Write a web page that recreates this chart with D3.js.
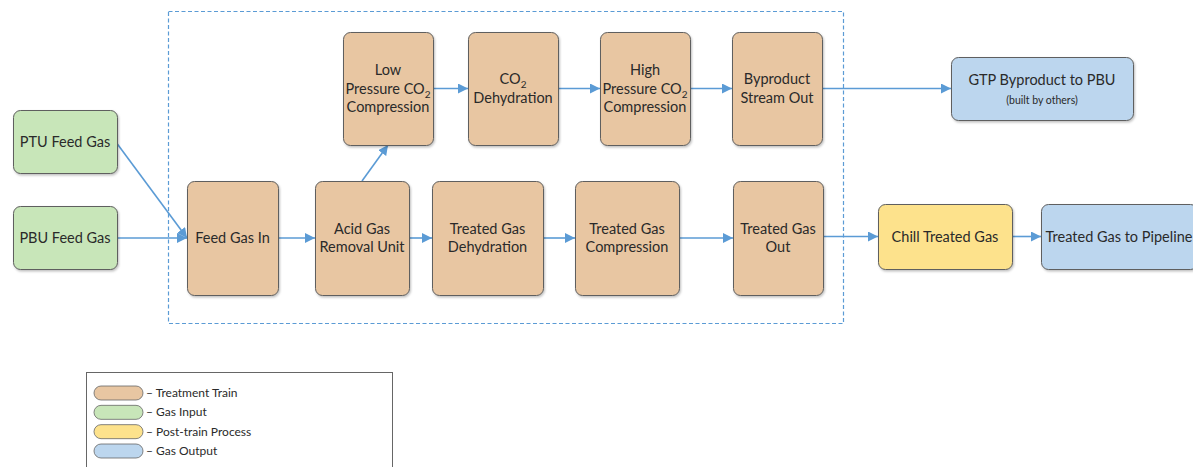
<!DOCTYPE html>
<html>
<head>
<meta charset="utf-8">
<script src="https://cdn.jsdelivr.net/npm/d3@7/dist/d3.min.js"></script>
<style>
  body { margin: 0; background: #fff; }
  svg text { font-family: Lato, "Open Sans", sans-serif; fill: #2a2a2a; }
</style>
</head>
<body>
<div id="chart"></div>
<script>
// node ids, labels (lines; "_2" marks a subscript 2) and kinds
var nodeIds = ["ptu", "pbu", "feed", "agr", "lpco2", "co2dehy", "hpco2", "byprod", "tgdehy", "tgcomp", "tgout", "gtp", "chill", "pipe"];
var nodeLabels = [
  ["PTU Feed Gas"],
  ["PBU Feed Gas"],
  ["Feed Gas In"],
  ["Acid Gas", "Removal Unit"],
  ["Low", "Pressure CO_2", "Compression"],
  ["CO_2", "Dehydration"],
  ["High", "Pressure CO_2", "Compression"],
  ["Byproduct", "Stream Out"],
  ["Treated Gas", "Dehydration"],
  ["Treated Gas", "Compression"],
  ["Treated Gas", "Out"],
  ["GTP Byproduct to PBU"],
  ["Chill Treated Gas"],
  ["Treated Gas to Pipeline"]
];
var nodeKinds = ["input", "input", "train", "train", "train", "train", "train", "train", "train", "train", "train", "output", "post", "output"];
var nodeNotes = ["", "", "", "", "", "", "", "", "", "", "", "(built by others)", "", ""];

// flows between nodes
var linkSources = ["ptu", "pbu", "feed", "agr", "lpco2", "co2dehy", "hpco2", "byprod", "agr", "tgdehy", "tgcomp", "tgout", "chill"];
var linkTargets = ["feed", "feed", "agr", "lpco2", "co2dehy", "hpco2", "byprod", "gtp", "tgdehy", "tgcomp", "tgout", "chill", "pipe"];

// legend
var legendKinds = ["train", "input", "post", "output"];
var legendLabels = ["Treatment Train", "Gas Input", "Post-train Process", "Gas Output"];

// ---- layout (box geometry in px) ----
var layout = {
  ptu:     [13, 110, 104, 63],
  pbu:     [13, 206, 104, 63],
  feed:    [187, 181, 91, 114],
  agr:     [315, 181, 94, 114],
  lpco2:   [343, 32, 90, 113],
  co2dehy: [468, 32, 90, 113],
  hpco2:   [600, 32, 90, 113],
  byprod:  [732, 32, 90, 113],
  tgdehy:  [432, 181, 111, 114],
  tgcomp:  [575, 181, 104, 114],
  tgout:   [733, 181, 90, 114],
  gtp:     [951, 57, 182, 63],
  chill:   [878, 204, 134, 65],
  pipe:    [1041, 204, 156, 65]
};
var fills = { train: "#e8c6a2", input: "#c8e6b9", post: "#fde28c", output: "#bcd6ee" };
var W = 1193, H = 467;
var blue = "#5b9bd5";

var svg = d3.select("#chart").append("svg")
  .attr("width", W).attr("height", H);

var defs = svg.append("defs");
defs.append("marker")
  .attr("id", "arrow")
  .attr("viewBox", "0 0 10 10")
  .attr("refX", 10).attr("refY", 5)
  .attr("markerWidth", 10).attr("markerHeight", 10)
  .attr("markerUnits", "userSpaceOnUse")
  .attr("orient", "auto")
  .append("path")
  .attr("d", "M0,0 L10,5 L0,10 Z")
  .attr("fill", blue);

var shadow = defs.append("filter").attr("id", "shadow")
  .attr("x", "-10%").attr("y", "-10%").attr("width", "130%").attr("height", "130%");
shadow.append("feDropShadow")
  .attr("dx", 1).attr("dy", 1.5).attr("stdDeviation", 1.2)
  .attr("flood-color", "#000").attr("flood-opacity", 0.25);

var nodes = nodeIds.map(function(id, i) {
  var b = layout[id];
  return { id: id, lines: nodeLabels[i], kind: nodeKinds[i], note: nodeNotes[i],
           x: b[0], y: b[1], w: b[2], h: b[3] };
});
var byId = {};
nodes.forEach(function(n) { byId[n.id] = n; });

// dashed boundary of the treatment train
svg.append("rect")
  .attr("x", 168.5).attr("y", 11.5).attr("width", 675).attr("height", 312)
  .attr("fill", "none").attr("stroke", blue).attr("stroke-width", 1.2)
  .attr("stroke-dasharray", "4,2.5");

// links
var links = linkSources.map(function(s, i) {
  var a = byId[s], b = byId[linkTargets[i]];
  if (b.y + b.h < a.y) {
    // going up: top of source to bottom of target
    return [[a.x + a.w / 2, a.y], [b.x + b.w / 2, b.y + b.h]];
  }
  var y2 = b.y + b.h / 2;
  var y1 = Math.abs((a.y + a.h / 2) - y2) < 8 ? y2 : a.y + a.h / 2 + 2;
  return [[a.x + a.w, y1], [b.x, y2]];
});

svg.append("g").selectAll("line")
  .data(links)
  .join("line")
  .attr("x1", function(d) { return d[0][0]; })
  .attr("y1", function(d) { return d[0][1]; })
  .attr("x2", function(d) { return d[1][0]; })
  .attr("y2", function(d) { return d[1][1]; })
  .attr("stroke", blue)
  .attr("stroke-width", 1.6)
  .attr("marker-end", "url(#arrow)");

// boxes
var g = svg.append("g").selectAll("g")
  .data(nodes)
  .join("g");

g.append("rect")
  .attr("x", function(d) { return d.x + 0.5; })
  .attr("y", function(d) { return d.y + 0.5; })
  .attr("width", function(d) { return d.w; })
  .attr("height", function(d) { return d.h; })
  .attr("rx", 7)
  .attr("fill", function(d) { return fills[d.kind]; })
  .attr("stroke", "#5e5e5e")
  .attr("stroke-width", 1)
  .attr("filter", "url(#shadow)");

function addLabel(sel, str) {
  var parts = str.split("_");
  sel.append("tspan").text(parts[0]);
  if (parts.length > 1) {
    sel.append("tspan").attr("font-size", "10px").attr("dy", 4).text(parts[1]);
  }
}

var lineH = 18.5;
g.each(function(d) {
  var el = d3.select(this);
  var cx = d.x + d.w / 2;
  var n = d.lines.length + (d.note ? 0.9 : 0);
  var top = d.y + d.h / 2 - (n - 1) * lineH / 2 + 5;
  d.lines.forEach(function(line, i) {
    var t = el.append("text")
      .attr("x", cx).attr("y", top + i * lineH)
      .attr("text-anchor", "middle")
      .attr("font-size", "14.5px");
    addLabel(t, line);
  });
  if (d.note) {
    el.append("text")
      .attr("x", cx).attr("y", top + lineH * 1.0)
      .attr("text-anchor", "middle")
      .attr("font-size", "10.5px")
      .text(d.note);
  }
});

// legend
var lg = svg.append("g");
lg.append("rect")
  .attr("x", 86.5).attr("y", 372.5).attr("width", 306).attr("height", 110)
  .attr("fill", "#fff").attr("stroke", "#666").attr("stroke-width", 1);

var ly = d3.scalePoint().domain(legendKinds).range([393, 451]);
var items = lg.selectAll("g.item")
  .data(legendKinds)
  .join("g").attr("class", "item")
  .attr("transform", function(d) { return "translate(0," + ly(d) + ")"; });

items.append("rect")
  .attr("x", 94).attr("y", -7).attr("width", 49).attr("height", 14)
  .attr("rx", 7)
  .attr("fill", function(d) { return fills[d]; })
  .attr("stroke", "#666").attr("stroke-width", 0.8);

items.append("text")
  .attr("x", 146).attr("y", 4)
  .attr("font-size", "12px")
  .text(function(d, i) { return "\u2013 " + legendLabels[i]; });
</script>
</body>
</html>
